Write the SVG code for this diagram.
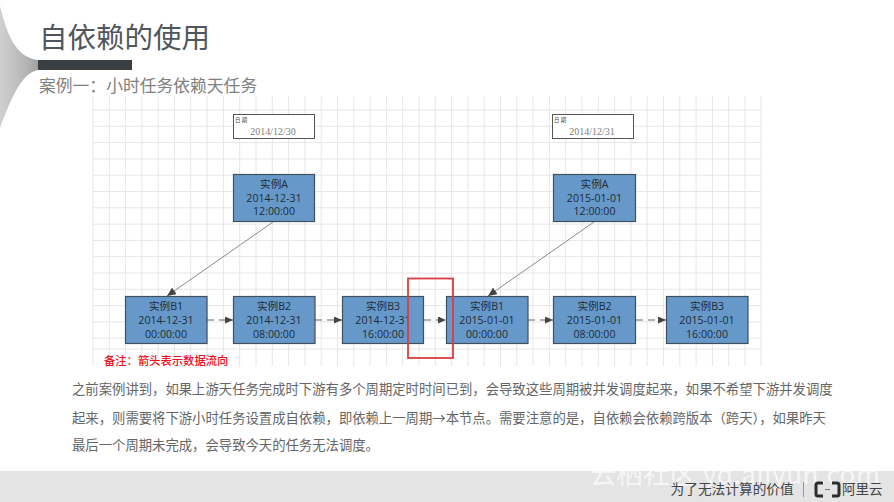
<svg xmlns="http://www.w3.org/2000/svg" width="894" height="502" viewBox="0 0 894 502">
<style>
text{font-family:"Noto Sans CJK SC","Liberation Sans",sans-serif}
.grid{stroke:#e6e6e6;stroke-width:1;fill:none}
.n rect{fill:#6699c9;stroke:#3f4f5f;stroke-width:1.2}
.n text{font-size:10.6px;fill:#1e2a36;text-anchor:middle;font-family:"Open Sans","Noto Sans CJK SC",sans-serif}
.d rect{fill:#fff;stroke:#555;stroke-width:1}
.d .l{font-size:5.5px;fill:#444}
.d .v{font-size:10px;fill:#808080;text-anchor:middle;font-family:"Liberation Serif",serif}
.dash{stroke:#666;stroke-width:1.2;stroke-dasharray:7 5;fill:none;marker-end:url(#a)}
.diag{stroke:#8a8a8a;stroke-width:1;fill:none;marker-end:url(#a2)}
.body{font-size:13.35px;fill:#666}
</style>
<defs>
<marker id="a" markerUnits="userSpaceOnUse" markerWidth="8" markerHeight="7" refX="8" refY="3.500" orient="auto"><path d="M0 0L8 3.500L0 7Z" fill="#444"/></marker>
<marker id="a2" markerUnits="userSpaceOnUse" markerWidth="9" markerHeight="8" refX="9" refY="4" orient="auto"><path d="M0 0L9 4L0 8Z" fill="#444"/></marker>
<linearGradient id="fan" x1="0" y1="0" x2="1" y2="0"><stop offset="0" stop-color="#d0d0d0"/><stop offset="0.7" stop-color="#b4b4b4"/><stop offset="1" stop-color="#a0a0a0"/></linearGradient>
</defs>
<rect width="894" height="502" fill="#fff"/>
<path d="M0 6C7 34 15 57 38 60V70C22 73 12 96 0 128Z" fill="url(#fan)"/>
<rect x="38" y="60" width="94" height="10" fill="#3a3f44"/>
<text x="39" y="48" font-size="28.500" fill="#50565c">自依赖的使用</text>
<text x="39" y="92" font-size="16.800" fill="#808080">案例一：小时任务依赖天任务</text>
<path class="grid" d="M93 96V366M109.300 96V366M125.600 96V366M141.900 96V366M158.200 96V366M174.500 96V366M190.800 96V366M207.100 96V366M223.400 96V366M239.700 96V366M256 96V366M272.300 96V366M288.600 96V366M304.900 96V366M321.200 96V366M337.500 96V366M353.800 96V366M370.100 96V366M386.400 96V366M402.700 96V366M419 96V366M435.300 96V366M451.600 96V366M467.900 96V366M484.200 96V366M500.500 96V366M516.800 96V366M533.100 96V366M549.400 96V366M565.700 96V366M582 96V366M598.300 96V366M614.600 96V366M630.900 96V366M647.200 96V366M663.500 96V366M679.800 96V366M696.100 96V366M712.400 96V366M728.700 96V366M745 96V366M761 96V366M93 110H761M93 126.300H761M93 142.600H761M93 158.900H761M93 175.200H761M93 191.500H761M93 207.800H761M93 224.100H761M93 240.400H761M93 256.700H761M93 273H761M93 289.300H761M93 305.600H761M93 321.900H761M93 338.200H761M93 349H761"/>
<g id="connectors">
<path class="diag" d="M273 222L167 296"/>
<path class="diag" d="M594 222L488 296"/>
<path class="dash" d="M207 320H233"/>
<path class="dash" d="M315 320H342"/>
<path class="dash" d="M424 320H446"/>
<path class="dash" d="M528 320H553"/>
<path class="dash" d="M636 320H666"/>
</g>
<g id="date1" class="d"><rect x="233.500" y="114.500" width="81" height="24"/><text class="l" x="235" y="122">日 期</text><text class="v" x="273" y="135">2014/12/30</text></g>
<g id="date2" class="d"><rect x="552.500" y="114.500" width="81" height="24"/><text class="l" x="554" y="122">日 期</text><text class="v" x="592" y="135">2014/12/31</text></g>
<g id="a1" class="n"><rect x="233.500" y="174.500" width="81" height="47"/><text x="274" y="188">实例A</text><text x="274" y="202">2014-12-31</text><text x="274" y="215">12:00:00</text></g>
<g id="a2n" class="n"><rect x="553.500" y="174.500" width="82" height="47"/><text x="594.500" y="188">实例A</text><text x="594.500" y="202">2015-01-01</text><text x="594.500" y="215">12:00:00</text></g>
<g id="b1" class="n"><rect x="125.500" y="296.500" width="81.500" height="47"/><text x="166" y="310">实例B1</text><text x="166" y="324">2014-12-31</text><text x="166" y="337.500">00:00:00</text></g>
<g id="b2" class="n"><rect x="233.500" y="296.500" width="81.500" height="47"/><text x="274" y="310">实例B2</text><text x="274" y="324">2014-12-31</text><text x="274" y="337.500">08:00:00</text></g>
<g id="b3" class="n"><rect x="342.500" y="296.500" width="81" height="47"/><text x="383" y="310">实例B3</text><text x="383" y="324">2014-12-31</text><text x="383" y="337.500">16:00:00</text></g>
<g id="b4" class="n"><rect x="446.500" y="296.500" width="81.500" height="47"/><text x="487" y="310">实例B1</text><text x="487" y="324">2015-01-01</text><text x="487" y="337.500">00:00:00</text></g>
<g id="b5" class="n"><rect x="553.500" y="296.500" width="82" height="47"/><text x="594.500" y="310">实例B2</text><text x="594.500" y="324">2015-01-01</text><text x="594.500" y="337.500">08:00:00</text></g>
<g id="b6" class="n"><rect x="666.500" y="296.500" width="81.500" height="47"/><text x="707" y="310">实例B3</text><text x="707" y="324">2015-01-01</text><text x="707" y="337.500">16:00:00</text></g>
<rect id="highlight" x="408" y="278.500" width="45" height="79.500" fill="none" stroke="#dc3c40" stroke-width="1.800"/>
<text x="104" y="365" font-size="11.300" font-weight="500" fill="#f01020">备注：箭头表示数据流向</text>
<text class="body" x="72" y="394">之前案例讲到，如果上游天任务完成时下游有多个周期定时时间已到，会导致这些周期被并发调度起来，如果不希望下游并发调度</text>
<text class="body" x="72" y="423">起来，则需要将下游小时任务设置成自依赖，即依赖上一周期→本节点。需要注意的是，自依赖会依赖跨版本（跨天），如果昨天</text>
<text class="body" x="72" y="449.500">最后一个周期未完成，会导致今天的任务无法调度。</text>
<rect x="0" y="471" width="894" height="31" fill="#e3e4e3"/>
<text x="590" y="484" font-size="26" fill="#fff" fill-opacity="0.7" textLength="290">云栖社区 yq.aliyun.com</text>
<text x="670.500" y="494" font-size="13.700" fill="#444">为了无法计算的价值</text>
<path d="M803.500 482V497" stroke="#999" stroke-width="1"/>
<path d="M823 483H818Q816 483 816 485V494Q816 496 818 496H823M832 483H837Q839 483 839 485V494Q839 496 837 496H832" fill="none" stroke="#2c2c2c" stroke-width="3"/>
<path d="M825 489.500H830" stroke="#777" stroke-width="1"/>
<text x="842" y="494" font-size="13.500" fill="#444">阿里云</text>
</svg>
